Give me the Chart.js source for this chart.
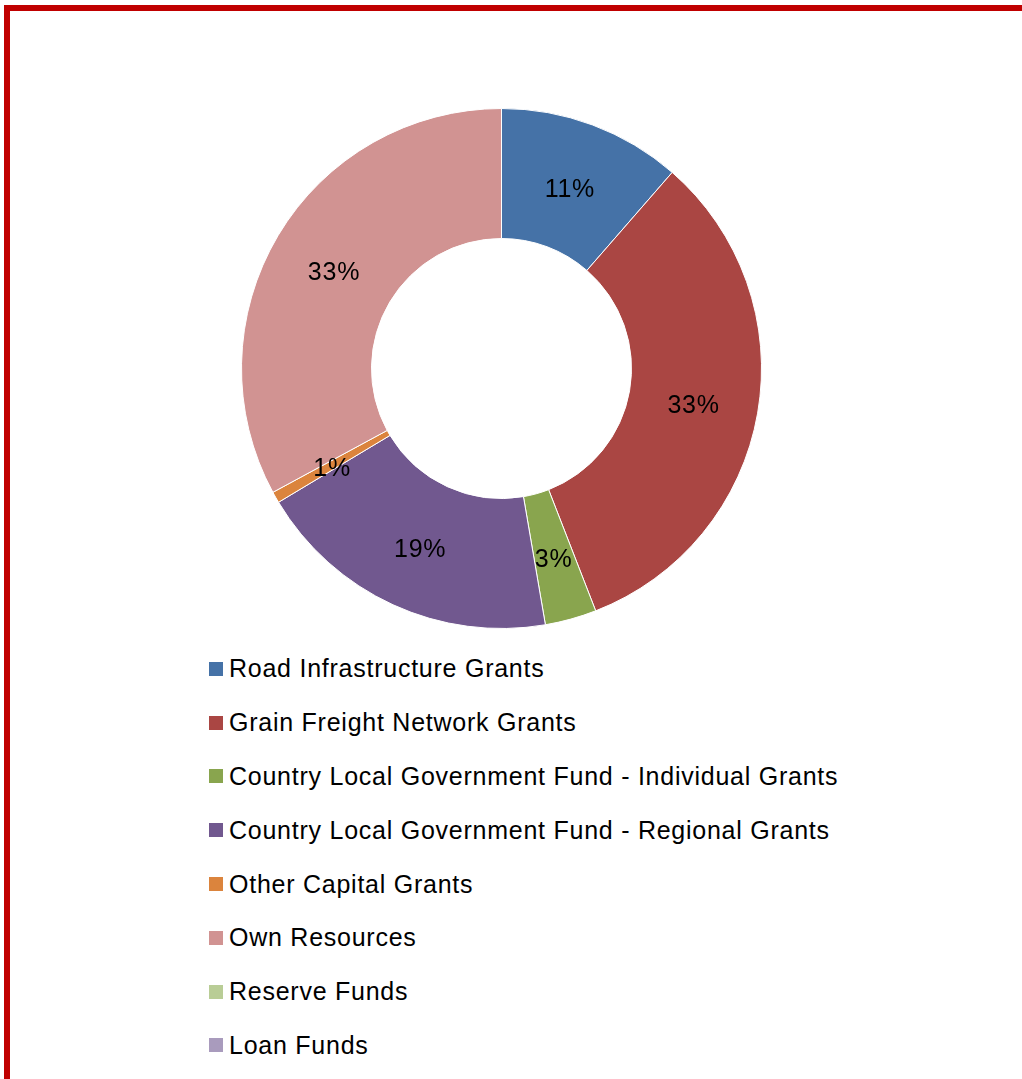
<!DOCTYPE html>
<html>
<head>
<meta charset="utf-8">
<script src="https://cdn.jsdelivr.net/npm/chart.js@4/dist/chart.umd.min.js"></script>
<style>
  html, body { margin: 0; padding: 0; background: #fff; overflow: hidden; }
  body { width: 1022px; height: 1079px; position: relative; font-family: "Liberation Sans", Arial, sans-serif; }
  .frame { position: absolute; left: 4px; top: 5px; width: 1040px; height: 1100px; border: 6px solid #C00000; box-sizing: border-box; }
  .chart-box { position: absolute; left: 241px; top: 108px; width: 521px; height: 521px; }
  #legend { position: absolute; left: 209px; top: 642px; margin: 0; padding: 0; list-style: none; }
  #legend li { height: 53.8px; display: flex; align-items: center; font-size: 25px; letter-spacing: 0.75px; color: #000; white-space: nowrap; }
  #legend li span { display: inline-block; width: 14px; height: 14px; margin-right: 6px; }
</style>
</head>
<body>
<div class="frame"></div>
<div class="chart-box"><canvas id="fundingChart"></canvas></div>
<ul id="legend"></ul>
<script>
  // 자금 출처별 비율 (%)
  const categories = [
    'Road Infrastructure Grants',
    'Grain Freight Network Grants',
    'Country Local Government Fund - Individual Grants',
    'Country Local Government Fund - Regional Grants',
    'Other Capital Grants',
    'Own Resources',
    'Reserve Funds',
    'Loan Funds'
  ];
  const shares = [11.4, 32.7, 3.2, 19.1, 0.7, 32.9, 0, 0];
  const colors = ['#4572A7', '#AA4643', '#89A54E', '#71588F', '#DB843D', '#D19392', '#B9CD96', '#A99BBD'];

  // 조각 중앙에 퍼센트 표시
  const percentLabels = {
    id: 'percentLabels',
    afterDatasetsDraw(chart) {
      const ctx = chart.ctx;
      const data = chart.data.datasets[0].data;
      const total = data.reduce((a, b) => a + b, 0);
      ctx.save();
      ctx.font = '25px "Liberation Sans", Arial, sans-serif';
      ctx.letterSpacing = '0.75px';
      ctx.fillStyle = '#000';
      ctx.textAlign = 'center';
      ctx.textBaseline = 'middle';
      chart.getDatasetMeta(0).data.forEach((arc, i) => {
        if (!data[i]) return;
        const p = arc.getCenterPoint();
        ctx.fillText(Math.round(data[i] / total * 100) + '%', p.x, p.y + 4);
      });
      ctx.restore();
    }
  };

  new Chart(document.getElementById('fundingChart'), {
    type: 'doughnut',
    data: {
      labels: categories,
      datasets: [{
        data: shares,
        backgroundColor: colors,
        borderColor: '#fff',
        borderWidth: 1
      }]
    },
    options: {
      responsive: true,
      maintainAspectRatio: false,
      animation: false,
      cutout: '50%',
      layout: { padding: 0 },
      plugins: {
        legend: { display: false },
        tooltip: { enabled: false }
      }
    },
    plugins: [percentLabels]
  });

  // 범례는 목록으로 따로 그림
  const legend = document.getElementById('legend');
  categories.forEach((name, i) => {
    const li = document.createElement('li');
    const box = document.createElement('span');
    box.style.background = colors[i];
    li.appendChild(box);
    li.appendChild(document.createTextNode(name));
    legend.appendChild(li);
  });
</script>
</body>
</html>
